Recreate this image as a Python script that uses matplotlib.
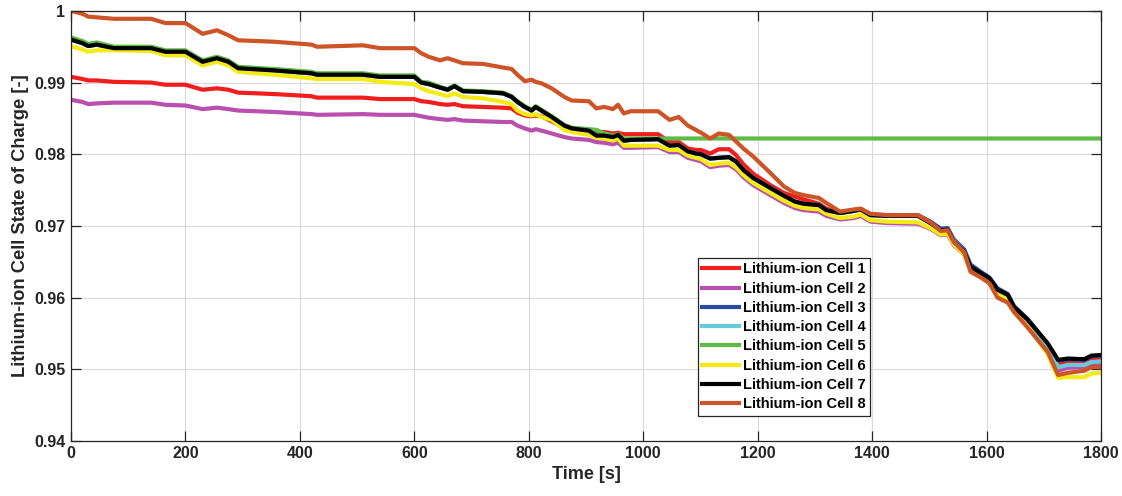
import numpy as np
import matplotlib.pyplot as plt

plt.rcParams['font.family'] = ['Liberation Sans', 'DejaVu Sans']

# time samples [s]
t = [0, 20, 30, 45, 75, 140, 165, 200, 230, 255, 275, 292, 355, 420, 430, 510, 540, 600,
     612, 625, 645, 658, 670, 685, 720, 755, 770, 780, 793, 805, 812, 822, 840, 862, 875,
     905, 918, 932, 947, 956, 966, 978, 1026, 1046, 1062, 1078, 1092, 1101, 1117, 1132,
     1150, 1162, 1175, 1192, 1222, 1246, 1265, 1280, 1307, 1320, 1344, 1368, 1380, 1397,
     1426, 1480, 1502, 1520, 1532, 1543, 1561, 1572, 1590, 1605, 1619, 1637, 1648, 1672,
     1707, 1725, 1742, 1771, 1783, 1800]

cell1 = [0.9908, 0.9905, 0.9903, 0.9903, 0.9901, 0.9900, 0.9897, 0.9897, 0.9890, 0.9892,
         0.9890, 0.9886, 0.9884, 0.9881, 0.9879, 0.9879, 0.9877, 0.9877, 0.9874, 0.9873,
         0.9870, 0.9869, 0.9870, 0.9867, 0.9866, 0.9865, 0.9864, 0.9858, 0.9854, 0.9853,
         0.9854, 0.9853, 0.9846, 0.9837, 0.9835, 0.9834, 0.9831, 0.9831, 0.9829, 0.9830,
         0.9828, 0.9828, 0.9828, 0.9817, 0.9817, 0.9808, 0.9806, 0.9806, 0.9801, 0.9807,
         0.9807, 0.9799, 0.9786, 0.9773, 0.9757, 0.9746, 0.9741, 0.9737, 0.9731, 0.9724,
         0.9719, 0.9722, 0.9724, 0.9716, 0.9714, 0.9714, 0.9704, 0.9694, 0.9695, 0.9678,
         0.9663, 0.9641, 0.9632, 0.9625, 0.9609, 0.9602, 0.9585, 0.9567, 0.9533, 0.9507,
         0.9509, 0.9508, 0.9513, 0.9514]

cell2 = [0.9876, 0.9873, 0.9870, 0.9871, 0.9872, 0.9872, 0.9869, 0.9868, 0.9863, 0.9865,
         0.9863, 0.9861, 0.9859, 0.9856, 0.9855, 0.9856, 0.9855, 0.9855, 0.9853, 0.9851,
         0.9849, 0.9848, 0.9849, 0.9847, 0.9846, 0.9845, 0.9845, 0.9840, 0.9836, 0.9833,
         0.9835, 0.9833, 0.9829, 0.9824, 0.9822, 0.9820, 0.9817, 0.9816, 0.9814, 0.9816,
         0.9809, 0.9809, 0.9810, 0.9803, 0.9803, 0.9795, 0.9792, 0.9790, 0.9782, 0.9784,
         0.9785, 0.9779, 0.9768, 0.9757, 0.9743, 0.9732, 0.9725, 0.9722, 0.9720, 0.9714,
         0.9709, 0.9711, 0.9714, 0.9706, 0.9704, 0.9703, 0.9696, 0.9687, 0.9688, 0.9673,
         0.9660, 0.9639, 0.9630, 0.9623, 0.9606, 0.9599, 0.9581, 0.9562, 0.9526, 0.9498,
         0.9502, 0.9503, 0.9507, 0.9507]

cell3 = [0.9960, 0.9955, 0.9951, 0.9953, 0.9948, 0.9948, 0.9943, 0.9943, 0.9929, 0.9934,
         0.9929, 0.9920, 0.9917, 0.9913, 0.9911, 0.9911, 0.9908, 0.9908, 0.9900, 0.9898,
         0.9893, 0.9890, 0.9895, 0.9888, 0.9887, 0.9885, 0.9880, 0.9873, 0.9866, 0.9861,
         0.9866, 0.9861, 0.9852, 0.9840, 0.9836, 0.9833, 0.9826, 0.9826, 0.9824, 0.9827,
         0.9819, 0.9820, 0.9821, 0.9812, 0.9813, 0.9804, 0.9801, 0.9800, 0.9794, 0.9795,
         0.9796, 0.9790, 0.9778, 0.9767, 0.9753, 0.9742, 0.9734, 0.9731, 0.9729, 0.9722,
         0.9718, 0.9721, 0.9723, 0.9716, 0.9715, 0.9715, 0.9706, 0.9696, 0.9697, 0.9681,
         0.9667, 0.9646, 0.9636, 0.9628, 0.9613, 0.9605, 0.9588, 0.9570, 0.9535, 0.9512,
         0.9514, 0.9513, 0.9518, 0.9519]

cell4 = [0.9960, 0.9955, 0.9951, 0.9953, 0.9948, 0.9948, 0.9943, 0.9943, 0.9929, 0.9934,
         0.9929, 0.9920, 0.9917, 0.9913, 0.9911, 0.9911, 0.9908, 0.9908, 0.9900, 0.9898,
         0.9893, 0.9890, 0.9895, 0.9888, 0.9887, 0.9885, 0.9880, 0.9873, 0.9866, 0.9861,
         0.9866, 0.9861, 0.9852, 0.9840, 0.9836, 0.9833, 0.9826, 0.9826, 0.9824, 0.9827,
         0.9819, 0.9820, 0.9821, 0.9812, 0.9813, 0.9804, 0.9801, 0.9800, 0.9794, 0.9795,
         0.9796, 0.9790, 0.9778, 0.9767, 0.9753, 0.9742, 0.9734, 0.9731, 0.9729, 0.9722,
         0.9718, 0.9721, 0.9723, 0.9715, 0.9714, 0.9714, 0.9704, 0.9694, 0.9695, 0.9679,
         0.9664, 0.9642, 0.9633, 0.9625, 0.9609, 0.9601, 0.9583, 0.9565, 0.9530, 0.9503,
         0.9506, 0.9506, 0.9510, 0.9511]

cell5 = [0.9963, 0.9958, 0.9954, 0.9956, 0.9950, 0.9950, 0.9945, 0.9945, 0.9931, 0.9936,
         0.9931, 0.9922, 0.9919, 0.9915, 0.9913, 0.9913, 0.9910, 0.9910, 0.9901, 0.9900,
         0.9894, 0.9891, 0.9896, 0.9889, 0.9888, 0.9886, 0.9881, 0.9874, 0.9867, 0.9862,
         0.9867, 0.9862, 0.9853, 0.9841, 0.9837, 0.9835, 0.9834, 0.9829, 0.9826, 0.9828,
         0.9822, 0.9822, 0.9822, 0.9822, 0.9822, 0.9822, 0.9822, 0.9822, 0.9822, 0.9822,
         0.9822, 0.9822, 0.9822, 0.9822, 0.9822, 0.9822, 0.9822, 0.9822, 0.9822, 0.9822,
         0.9822, 0.9822, 0.9822, 0.9822, 0.9822, 0.9822, 0.9822, 0.9822, 0.9822, 0.9822,
         0.9822, 0.9822, 0.9822, 0.9822, 0.9822, 0.9822, 0.9822, 0.9822, 0.9822, 0.9822,
         0.9822, 0.9822, 0.9822, 0.9822]

cell6 = [0.9951, 0.9946, 0.9943, 0.9945, 0.9945, 0.9944, 0.9938, 0.9938, 0.9924, 0.9929,
         0.9924, 0.9915, 0.9911, 0.9906, 0.9905, 0.9905, 0.9901, 0.9898, 0.9892, 0.9888,
         0.9884, 0.9881, 0.9885, 0.9880, 0.9878, 0.9873, 0.9870, 0.9861, 0.9856, 0.9854,
         0.9856, 0.9852, 0.9848, 0.9834, 0.9831, 0.9827, 0.9823, 0.9822, 0.9819, 0.9822,
         0.9812, 0.9812, 0.9812, 0.9806, 0.9806, 0.9798, 0.9795, 0.9793, 0.9785, 0.9787,
         0.9788, 0.9782, 0.9771, 0.9760, 0.9746, 0.9735, 0.9728, 0.9725, 0.9723, 0.9717,
         0.9711, 0.9713, 0.9716, 0.9708, 0.9706, 0.9705, 0.9697, 0.9688, 0.9689, 0.9674,
         0.9660, 0.9638, 0.9629, 0.9622, 0.9604, 0.9597, 0.9579, 0.9560, 0.9521, 0.9488,
         0.9489, 0.9489, 0.9494, 0.9495]

cell7 = [0.9960, 0.9955, 0.9951, 0.9953, 0.9948, 0.9948, 0.9943, 0.9943, 0.9929, 0.9934,
         0.9929, 0.9920, 0.9917, 0.9913, 0.9911, 0.9911, 0.9908, 0.9908, 0.9900, 0.9898,
         0.9893, 0.9890, 0.9895, 0.9888, 0.9887, 0.9885, 0.9880, 0.9873, 0.9866, 0.9861,
         0.9866, 0.9861, 0.9852, 0.9840, 0.9836, 0.9833, 0.9826, 0.9826, 0.9824, 0.9827,
         0.9819, 0.9820, 0.9821, 0.9812, 0.9813, 0.9804, 0.9801, 0.9800, 0.9794, 0.9795,
         0.9796, 0.9790, 0.9778, 0.9767, 0.9753, 0.9742, 0.9734, 0.9731, 0.9729, 0.9722,
         0.9718, 0.9721, 0.9723, 0.9715, 0.9714, 0.9714, 0.9704, 0.9694, 0.9695, 0.9678,
         0.9664, 0.9643, 0.9634, 0.9627, 0.9611, 0.9604, 0.9587, 0.9569, 0.9536, 0.9513,
         0.9515, 0.9514, 0.9519, 0.9520]

cell8 = [1.0000, 0.9996, 0.9992, 0.9991, 0.9989, 0.9989, 0.9983, 0.9983, 0.9968, 0.9973,
         0.9966, 0.9959, 0.9957, 0.9953, 0.9950, 0.9952, 0.9948, 0.9948, 0.9941, 0.9936,
         0.9931, 0.9934, 0.9931, 0.9927, 0.9926, 0.9921, 0.9919, 0.9911, 0.9902, 0.9904,
         0.9901, 0.9899, 0.9892, 0.9880, 0.9875, 0.9874, 0.9864, 0.9866, 0.9863, 0.9869,
         0.9857, 0.9860, 0.9860, 0.9848, 0.9852, 0.9840, 0.9834, 0.9830, 0.9822, 0.9829,
         0.9827, 0.9818, 0.9808, 0.9797, 0.9774, 0.9755, 0.9746, 0.9743, 0.9739, 0.9732,
         0.9720, 0.9723, 0.9724, 0.9717, 0.9715, 0.9715, 0.9705, 0.9693, 0.9694, 0.9678,
         0.9663, 0.9636, 0.9628, 0.9620, 0.9600, 0.9593, 0.9580, 0.9558, 0.9524, 0.9492,
         0.9495, 0.9498, 0.9503, 0.9503]

cells = [cell1, cell2, cell3, cell4, cell5, cell6, cell7, cell8]
labels = ["Lithium-ion Cell %d" % (i + 1) for i in range(8)]
colors = ['#F21D1D', '#B94FAE', '#2E4AA0', '#66CCDD', '#5DBB46', '#F5EB14', '#000000', '#CC5427']

fig = plt.figure(figsize=(11.22, 4.96), dpi=100)
ax = fig.add_axes([0.0633, 0.111, 0.918, 0.867])

for v, c, lab in zip(cells, colors, labels):
    ax.plot(t, v, color=c, linewidth=3.0, label=lab)

ax.set_xlim(0, 1800)
ax.set_ylim(0.94, 1.0)
ax.set_xticks(np.arange(0, 1801, 200))
ax.set_yticks([0.94, 0.95, 0.96, 0.97, 0.98, 0.99, 1.0])
ax.set_yticklabels(['0.94', '0.95', '0.96', '0.97', '0.98', '0.99', '1'])

dark = '#262626'
ax.grid(True, color='#d9d9d9', linewidth=0.8)
ax.set_axisbelow(True)
for s in ax.spines.values():
    s.set_color(dark)
    s.set_linewidth(0.9)
ax.tick_params(direction='in', length=7, width=0.9, color=dark,
               top=True, right=True, labelsize=11.5, labelcolor=dark, pad=4)
for lab in ax.get_xticklabels() + ax.get_yticklabels():
    lab.set_fontweight('bold')

ax.set_xlabel('Time [s]', fontsize=13, fontweight='bold', color=dark, labelpad=3)
ax.set_ylabel('Lithium-ion Cell State of Charge [-]', fontsize=13.2, fontweight='bold',
              color=dark, labelpad=4)

leg = ax.legend(loc='upper left', bbox_to_anchor=(0.6087, 0.4253), borderaxespad=0,
                prop={'weight': 'bold', 'size': 10.5}, fancybox=False, framealpha=1,
                edgecolor=dark, labelspacing=0.36, handlelength=2.5, handletextpad=0.3,
                borderpad=0.3)
leg.get_frame().set_linewidth(0.9)

fig.savefig('out.png', dpi=100)
